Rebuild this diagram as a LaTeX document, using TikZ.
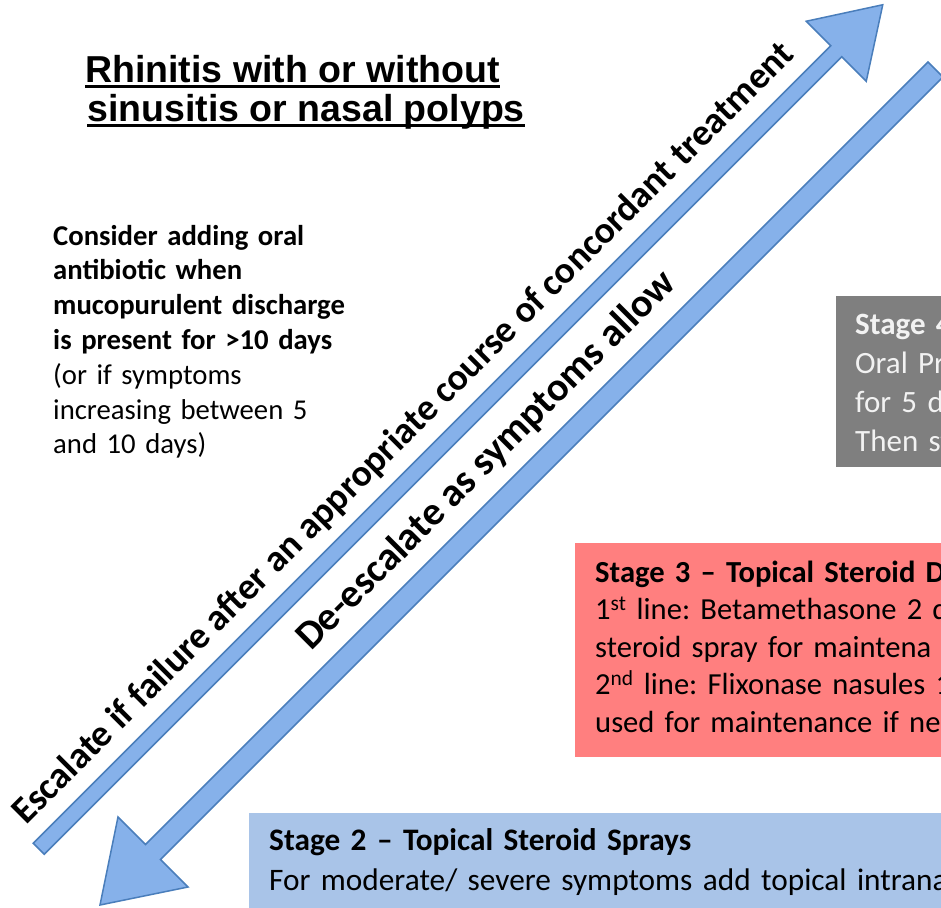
\documentclass[tikz,border=0pt]{standalone}
\usepackage{fontspec}
\setmainfont{Carlito}
\newfontfamily\headfont{Liberation Sans}
\usetikzlibrary{positioning}
\definecolor{arrowfill}{HTML}{86B1EA}
\definecolor{arrowline}{HTML}{4A7EBB}
\definecolor{greybox}{HTML}{7F7F7F}
\definecolor{redbox}{HTML}{FF7F7F}
\definecolor{bluebox}{HTML}{A9C4E8}
\frenchspacing

\begin{document}
\begin{tikzpicture}[x=1pt, y=-1pt]
        \tikzset{
            % Define style for the two arrows
            pfeil/.style={
                    fill=arrowfill,
                    draw=arrowline, line width=1.5pt,
                    line join=miter},
            % Define style for boxes
            stagebox/.style={
                    rectangle,
                    draw=none,
                    anchor=north west,
                    inner sep=0pt},
            % Define style for the texts
            boxtext/.style={
                    anchor=base west,
                    inner sep=0pt,
                    text width=700pt,
                    align=left},
            % Define style for the text along the arrows
            pfeiltext/.style={
                    rotate=45,
                    anchor=base west,
                    inner sep=0pt},
        }
        \useasboundingbox (0,0) rectangle (941,907);
        \clip (0,0) rectangle (941,907);

        % Draw the title
        \node[boxtext, text width=, font=\headfont\bfseries\fontsize{37.5}{40}\selectfont] (title1) at (85,82) {Rhinitis with or without};
        \node[boxtext, text width=, font=\headfont\bfseries\fontsize{37.5}{40}\selectfont] (title2) at (87,121) {sinusitis or nasal polyps};
        \draw[line width=2.8pt] ([yshift=-4.5pt]title1.base west) -- ([yshift=-4.5pt]title1.base east);
        \draw[line width=2.8pt] ([yshift=-4.5pt]title2.base west) -- ([yshift=-4.5pt]title2.base east);

        % Draw the note on antibiotics
        \node[boxtext, font=\fontsize{28.7}{34.8}\selectfont] (note) at (53,245)
            {\textbf{Consider adding oral}\\
             \textbf{antibiotic when}\\
             \textbf{mucopurulent discharge}\\
             \textbf{is present for >10 days}\\
             (or if symptoms\\
             increasing between 5\\
             and 10 days)};

        % Draw the stages
        \node[stagebox, fill=greybox, minimum width=200pt, minimum height=171pt] (stage4) at (836,296) {};
        \node[boxtext, text=white!95!black, font=\fontsize{31}{39}\selectfont] (stage4text)
            at ([shift={(19,38)}]stage4.north west)
            {\textbf{Stage 4}\\
             Oral Pr\\
             for 5 d\\
             Then st};

        \node[stagebox, fill=redbox, minimum width=400pt, minimum height=214pt] (stage3) at (575,543) {};
        \node[boxtext, font=\fontsize{30.6}{37.5}\selectfont] (stage3text)
            at ([shift={(20,39)}]stage3.north west)
            {\textbf{Stage 3 \textendash\ Topical Steroid D}\\
             1\textsuperscript{st} line: Betamethasone 2 d\\
             steroid spray for maintena\\
             2\textsuperscript{nd} line: Flixonase nasules 1\\
             used for maintenance if ne};

        \node[stagebox, fill=bluebox, minimum width=720pt, minimum height=120pt] (stage2) at (249,813) {};
        \node[boxtext, font=\fontsize{31.3}{40}\selectfont] (stage2text)
            at ([shift={(20,37)}]stage2.north west)
            {\textbf{Stage 2 \textendash\ Topical Steroid Sprays}\\
             For moderate/ severe symptoms add topical intrana};

        % Draw the arrows
        \coordinate (escTailL) at (33.25,843.25);
        \coordinate (escTailR) at (44.25,854.25);
        \coordinate (escBaseL) at (830.75,45.75);
        \coordinate (escBaseR) at (841.75,56.75);
        \coordinate (escBarbL) at (806.25,21.25);
        \coordinate (escBarbR) at (866.25,81.25);
        \coordinate (escTip) at (882.75,4.75);
        \draw[pfeil] (escTailL) -- (escBaseL) -- (escBarbL) -- (escTip)
            -- (escBarbR) -- (escBaseR) -- (escTailR) -- cycle;

        \coordinate (deTailL) at (928,62);
        \coordinate (deTailR) at (943,77);
        \coordinate (deBaseL) at (145.5,844.5);
        \coordinate (deBaseR) at (160.5,859.5);
        \coordinate (deBarbL) at (118,817);
        \coordinate (deBarbR) at (188,887);
        \coordinate (deTip) at (100,905);
        \draw[pfeil] (deTailL) -- (deTailR) -- (deBaseR) -- (deBarbR) -- (deTip)
            -- (deBarbL) -- (deBaseL) -- cycle;

        % Label the arrows
        \node[pfeiltext, font=\bfseries\fontsize{37.5}{40}\selectfont] (esctext) at (26,826)
            {Escalate if failure after an appropriate course of concordant treatment};
        \node[pfeiltext, font=\bfseries\fontsize{40}{40}\selectfont] (detext) at (311,652)
            {De-escalate as symptoms allow};

\end{tikzpicture}
\end{document}
